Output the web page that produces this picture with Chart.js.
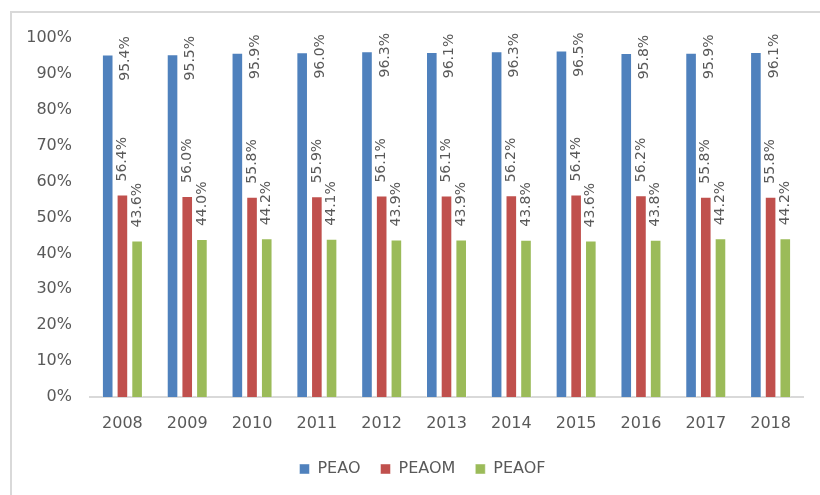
<!DOCTYPE html>
<html>
<head>
<meta charset="utf-8">
<script src="https://cdn.jsdelivr.net/npm/chart.js@4"></script>
<style>
    html, body { margin: 0; padding: 0; background: #fff; }
    #wrap { position: relative; width: 820px; height: 495px; }
</style>
</head>
<body>
<div id="wrap"><canvas id="chart" width="820" height="495"></canvas></div>
<script>
// Data
const years = ['2008', '2009', '2010', '2011', '2012', '2013', '2014', '2015', '2016', '2017', '2018'];
const peao = [95.4, 95.5, 95.9, 96.0, 96.3, 96.1, 96.3, 96.5, 95.8, 95.9, 96.1];
const peaom = [56.4, 56.0, 55.8, 55.9, 56.1, 56.1, 56.2, 56.4, 56.2, 55.8, 55.8];
const peaof = [43.6, 44.0, 44.2, 44.1, 43.9, 43.9, 43.8, 43.6, 43.8, 44.2, 44.2];
const yTicks = [0, 10, 20, 30, 40, 50, 60, 70, 80, 90, 100];

// Styles
const FONT = 'DejaVu Sans';
const TEXT_COLOR = '#595959';
const LINE_COLOR = '#d9d9d9';

// Frame line on the left and top (chart is cropped right / bottom)
const framePlugin = {
    id: 'frame',
    afterLayout(chart) {
        // legend sits a bit right of centre in the original
        chart.legend.left += 21;
        chart.legend.right += 21;
    },
    beforeDraw(chart) {
        const ctx = chart.ctx;
        ctx.save();
        ctx.fillStyle = '#ffffff';
        ctx.fillRect(0, 0, chart.width, chart.height);
        ctx.fillStyle = LINE_COLOR;
        ctx.fillRect(10, 11, chart.width - 10, 2);
        ctx.fillRect(10, 11, 2, chart.height - 11);
        ctx.restore();
    }
};

// Rotated value labels
const valueLabels = {
    id: 'valueLabels',
    afterDatasetsDraw(chart) {
        const ctx = chart.ctx;
        ctx.save();
        ctx.font = '14px "' + FONT + '"';
        ctx.fillStyle = TEXT_COLOR;
        ctx.textBaseline = 'middle';
        chart.data.datasets.forEach((ds, i) => {
            chart.getDatasetMeta(i).data.forEach((bar, j) => {
                const text = ds.data[j].toFixed(1) + '%';
                ctx.save();
                if (i === 0) {
                    // no room above the tall bars: put label beside the bar top
                    ctx.translate(bar.x + 18, bar.y + 4);
                    ctx.rotate(-Math.PI / 2);
                    ctx.textAlign = 'center';
                } else {
                    ctx.translate(bar.x, bar.y - 13);
                    ctx.rotate(-Math.PI / 2);
                    ctx.textAlign = 'left';
                }
                ctx.fillText(text, 0, 0);
                ctx.restore();
            });
        });
        ctx.restore();
    }
};

const edge = 'rgba(255,255,255,0.45)';

new Chart(document.getElementById('chart'), {
    type: 'bar',
    data: {
        labels: years,
        datasets: [
            { label: 'PEAO', data: peao, backgroundColor: '#4f81bd', borderColor: edge, borderWidth: 1 },
            { label: 'PEAOM', data: peaom, backgroundColor: '#c0504d', borderColor: edge, borderWidth: 1 },
            { label: 'PEAOF', data: peaof, backgroundColor: '#9bbb59', borderColor: edge, borderWidth: 1 }
        ]
    },
    options: {
        responsive: false,
        animation: false,
        datasets: {
            bar: { categoryPercentage: 0.68, barPercentage: 0.79 }
        },
        layout: { padding: { top: 38, right: 17, left: 0, bottom: 8 } },
        plugins: {
            legend: {
                position: 'bottom',
                labels: {
                    boxWidth: 10,
                    boxHeight: 10,
                    padding: 20,
                    color: TEXT_COLOR,
                    font: { family: FONT, size: 16 }
                }
            },
            tooltip: { enabled: false }
        },
        scales: {
            x: {
                grid: { display: false },
                border: { color: LINE_COLOR, width: 2 },
                ticks: {
                    color: TEXT_COLOR,
                    padding: 9,
                    font: { family: FONT, size: 16 }
                },
                afterFit(scale) { scale.height = 44; }
            },
            y: {
                min: 0,
                max: 100,
                afterBuildTicks(scale) { scale.ticks = yTicks.map(v => ({ value: v })); },
                grid: { display: false },
                border: { display: false },
                ticks: {
                    color: TEXT_COLOR,
                    padding: 10,
                    font: { family: FONT, size: 16 },
                    callback: v => v + '%'
                },
                afterFit(scale) { scale.width = 90; }
            }
        }
    },
    plugins: [framePlugin, valueLabels]
});
</script>
</body>
</html>
